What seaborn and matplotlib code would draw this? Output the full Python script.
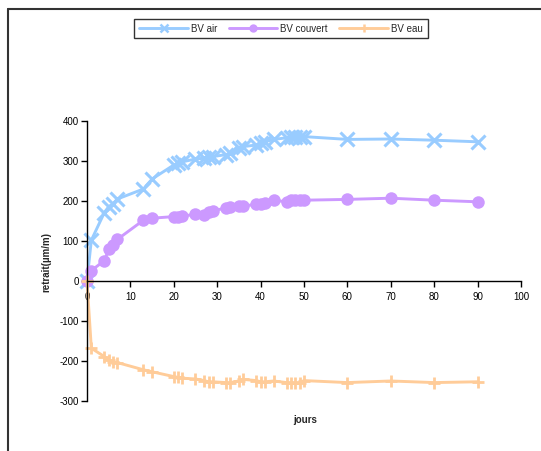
import matplotlib
matplotlib.use("Agg")
import matplotlib.pyplot as plt
from matplotlib.lines import Line2D
import seaborn as sns
import pandas as pd

days = [0, 1, 4, 5, 6, 7, 13, 15, 20, 21, 22, 25, 27, 28, 29, 32, 33, 35, 36,
        39, 40, 41, 43, 46, 47, 48, 49, 50, 60, 70, 80, 90]
bv_air = [0, 102, 171, 186, 193, 205, 230, 255, 290, 295, 298, 305, 307, 309,
          311, 316, 319, 332, 336, 340, 344, 348, 354, 358, 360, 361, 361, 361,
          354, 355, 352, 348]
bv_couvert = [0, 26, 51, 79, 90, 104, 152, 157, 161, 159, 162, 167, 165, 173,
              176, 182, 184, 187, 187, 192, 192, 194, 202, 198, 202, 202, 202,
              202, 204, 207, 202, 198]
bv_eau = [0, -168, -189, -198, -202, -204, -222, -227, -239, -241, -243, -245,
          -249, -252, -252, -254, -254, -250, -246, -249, -252, -252, -250,
          -254, -254, -254, -254, -249, -254, -250, -254, -252]
series_names = ["BV air", "BV couvert", "BV eau"]
x_ticks = list(range(0, 101, 10))
y_ticks = list(range(-300, 401, 100))

sns.set_style("white")
plt.rcParams['font.family'] = ['Liberation Sans', 'DejaVu Sans']
plt.rcParams['axes.unicode_minus'] = False

df = pd.DataFrame({"jours": days, series_names[0]: bv_air,
                   series_names[1]: bv_couvert, series_names[2]: bv_eau})

fig = plt.figure(figsize=(5.41, 4.51), dpi=100)
ax = fig.add_axes([0.1608, 0.1109, 0.8022, 0.6208])

styles = {
    "BV air": dict(color="#99CCFF", marker="x", markersize=9.5, markeredgewidth=2.2),
    "BV couvert": dict(color="#CC99FF", marker="o", markersize=9, markeredgewidth=0),
    "BV eau": dict(color="#FFCC99", marker="+", markersize=9, markeredgewidth=2.0),
}
for name in series_names:
    st = styles[name]
    sns.lineplot(data=df, x="jours", y=name, ax=ax, label=name,
                 color=st["color"], marker=st["marker"],
                 markersize=st["markersize"], markeredgewidth=st["markeredgewidth"],
                 markeredgecolor=st["color"], linewidth=2.1, clip_on=False)

ax.set_xlim(0, 100)
ax.set_ylim(-300, 400)
ax.set_xticks(x_ticks)
ax.set_yticks(y_ticks)
ax.set_xticklabels([str(t) for t in x_ticks])
ax.set_yticklabels([str(t) for t in y_ticks])
for s in ["top", "right"]:
    ax.spines[s].set_visible(False)
ax.spines["bottom"].set_position(("data", 0))
for s in ["left", "bottom"]:
    ax.spines[s].set_color("black")
    ax.spines[s].set_linewidth(1.0)
ax.tick_params(axis="both", direction="out", length=4, width=1, color="black",
               labelsize=7, labelcolor="black", bottom=True, left=True)
ax.tick_params(axis="x", pad=4)
ax.tick_params(axis="y", pad=2)

ax.set_xlabel("")
ax.set_ylabel("")
fig.text(305 / 541, 1 - 420 / 451, "jours", ha="center", va="center",
         fontsize=7, fontweight="bold")
fig.text(46 / 541, 1 - 262 / 451, "retrait(µm/m)", ha="center", va="center",
         rotation=90, fontsize=7, fontweight="bold")

ax.get_legend().remove()
handles = [Line2D([], [], color=styles[n]["color"], marker=styles[n]["marker"],
                  markersize=6, markeredgewidth=1.8 if n != "BV couvert" else 0,
                  linewidth=2.1) for n in series_names]
leg = fig.legend(handles, series_names, loc="center",
                 bbox_to_anchor=(281 / 541, 1 - 28.5 / 451), ncol=3,
                 fontsize=7, frameon=True, fancybox=False, handlelength=5,
                 handletextpad=0.3, columnspacing=1.2, borderpad=0.5,
                 edgecolor="black")
leg.get_frame().set_linewidth(1.0)

# outer frame (cropped chart border)
fig.add_artist(Line2D([8 / 541, 8 / 541], [0, 1 - 9 / 451],
                      transform=fig.transFigure, color="#333333", linewidth=1.5))
fig.add_artist(Line2D([8 / 541, 1], [1 - 9 / 451, 1 - 9 / 451],
                      transform=fig.transFigure, color="#333333", linewidth=1.5))

fig.savefig("out.png", dpi=100)
